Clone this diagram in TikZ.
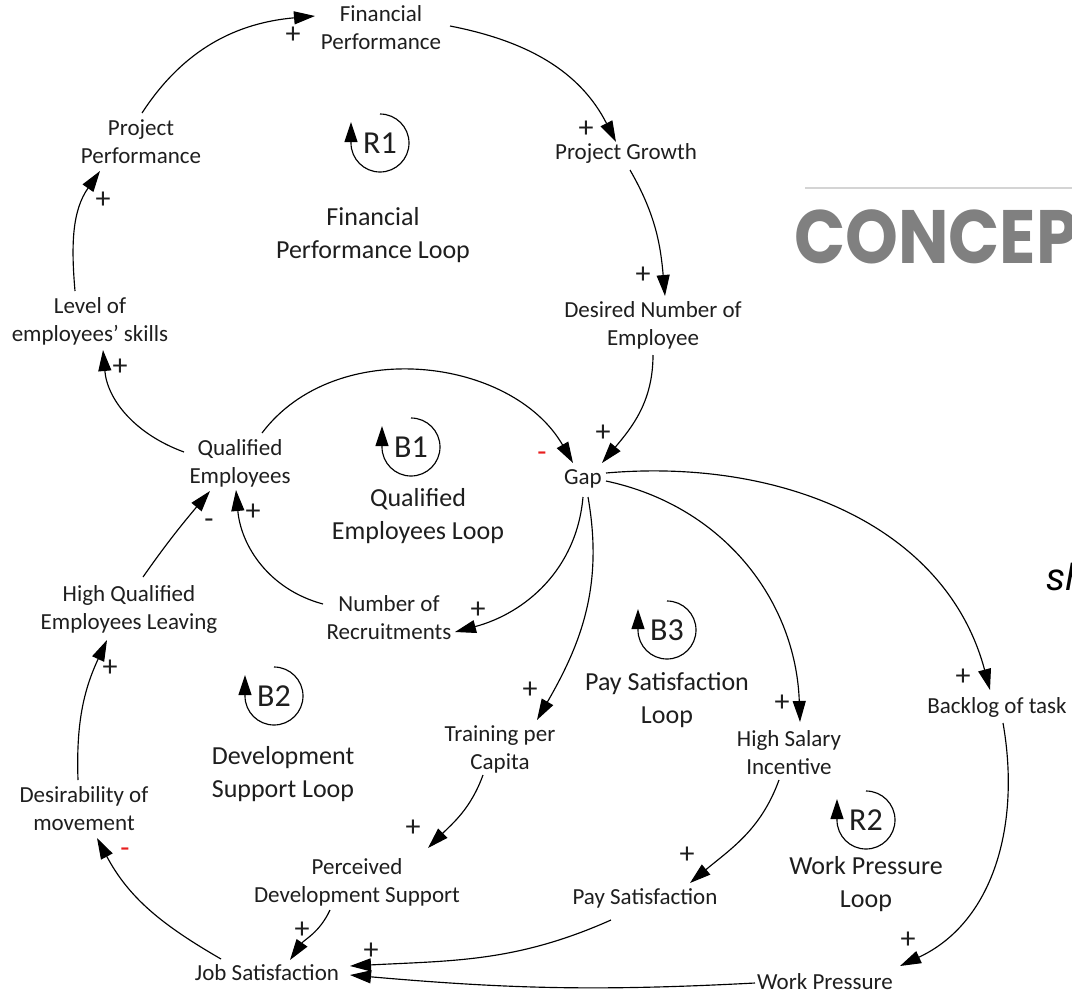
\documentclass[tikz,border=0pt]{standalone}
\usepackage{fontspec}
\usepackage{graphicx}
\setmainfont{Carlito}
\newfontfamily\headfont{Poppins}
\usetikzlibrary{arrows.meta,calc}
\definecolor{polred}{RGB}{232,30,30}
\definecolor{headgray}{RGB}{128,128,128}
\definecolor{rulegray}{RGB}{212,212,212}
\definecolor{inktext}{RGB}{30,30,30}
\begin{document}
\begin{tikzpicture}[x=1pt,y=1pt,
  var/.style={font=\fontsize{23}{28}\selectfont, align=center, inner sep=1pt, text=inktext},
  link/.style={line width=1.15pt, -{Triangle[length=21pt,width=13pt]}},
  pol/.style={font=\fontsize{30}{30}\selectfont, inner sep=0pt, text=inktext},
  polneg/.style={font=\fontsize{30}{30}\selectfont, inner sep=0pt, text=polred},
  loopname/.style={font=\fontsize{26}{33}\selectfont, align=center, inner sep=1pt, text=inktext},
  looptag/.style={font=\fontsize{32}{33}\selectfont, inner sep=0pt, text=inktext},
  icon/.style={line width=1.15pt, -{Triangle[length=20pt,width=13pt]}}
]
\useasboundingbox (0,-994) rectangle (1072,0);

% heading fragments
\draw[rulegray, line width=2pt] (805,-188) -- (1072,-188);
\node[anchor=base west, inner sep=0pt, text=headgray] (head) at (794,-263)
  {\scalebox{0.96}[1.08]{\headfont\bfseries\fontsize{70}{70}\selectfont CONCEP}};
\node[anchor=base west, inner sep=0pt, text=black, font=\headfont\itshape\fontsize{37}{37}\selectfont] (sh) at (1046,-590) {sh};

% variables
\node[var] (fp) at (381,-28) {Financial\\Performance};
\node[var] (pp) at (141,-142) {Project\\Performance};
\node[var] (pg) at (626,-153) {Project Growth};
\node[var] (dne) at (653,-325) {Desired Number of\\Employee};
\node[var] (les) at (90,-321) {Level of\\employees' skills};
\node[var] (qe) at (240,-463) {Qualified\\Employees};
\node[var] (gap) at (583,-479) {Gap};
\node[var] (nr) at (389,-618) {Number of\\Recruitments};
\node[var] (hqel) at (129,-609) {High Qualified\\Employees Leaving};
\node[var] (dm) at (84,-809) {Desirability of\\movement};
\node[var] (tpc) at (500,-749) {Training per\\Capita};
\node[var] (hsi) at (789,-753) {High Salary\\Incentive};
\node[var] (bt) at (997,-707) {Backlog of task};
\node[var] (pds) at (357,-882) {Perceived\\Development Support};
\node[var] (ps) at (645,-898) {Pay Satisfaction};
\node[var] (js) at (267,-973) {Job Satisfaction};
\node[var] (wp) at (825,-982) {Work Pressure};

% loop names
\node[loopname] (l1) at (373,-235) {Financial\\Performance Loop};
\node[loopname] (l2) at (418,-516) {Qualified\\Employees Loop};
\node[loopname] (l3) at (283,-774) {Development\\Support Loop};
\node[loopname] (l4) at (667,-700) {Pay Satisfaction\\Loop};
\node[loopname] (l5) at (866,-884) {Work Pressure\\Loop};

% loop icons
\node[looptag] (r1) at (380,-143) {R1};
\draw[icon] ($(r1)+(0,29)$) arc[start angle=90,end angle=-180,radius=29] -- ++(0,21);
\node[looptag] (b1) at (411,-447) {B1};
\draw[icon] ($(b1)+(0,29)$) arc[start angle=90,end angle=-180,radius=29] -- ++(0,21);
\node[looptag] (b2) at (274,-696) {B2};
\draw[icon] ($(b2)+(0,29)$) arc[start angle=90,end angle=-180,radius=29] -- ++(0,21);
\node[looptag] (b3) at (667,-630) {B3};
\draw[icon] ($(b3)+(0,29)$) arc[start angle=90,end angle=-180,radius=29] -- ++(0,21);
\node[looptag] (r2) at (866,-820) {R2};
\draw[icon] ($(r2)+(0,29)$) arc[start angle=90,end angle=-180,radius=29] -- ++(0,21);

% connectors
\draw[link] ($(pp)+(1,29)$) to[out=57,in=185] ($(fp)+(-66,12)$);
\draw[link] ($(fp)+(69,2)$) to[out=-11,in=117] ($(pg)+(-10,11)$);
\draw[link] ($(pg)+(4,-17)$) to[out=-60,in=95] ($(dne)+(12,29)$);
\draw[link] ($(dne)+(0,-30)$) to[out=-90,in=50] ($(gap)+(19,16)$);
\draw[link] ($(qe)+(22,30)$) to[out=53,in=120] ($(gap)+(-10,16)$);
\draw[link] ($(qe)+(-56,11)$) to[out=160,in=-85] ($(les)+(13,-29)$);
\draw[link] ($(les)+(-15,30)$) to[out=95,in=235] ($(pp)+(-41,-29)$);
\draw[link] ($(gap)+(0,-18)$) to[out=-95,in=15] ($(nr)+(66,-14)$);
\draw[link] ($(gap)+(5,-18)$) to[out=-80,in=60] ($(tpc)+(37,29)$);
\draw[link] ($(gap)+(23,-2)$) to[out=-12,in=92] ($(hsi)+(11,31)$);
\draw[link] ($(gap)+(23,6)$) to[out=5,in=105] ($(bt)+(-7,17)$);
\draw[link] ($(nr)+(-66,14)$) to[out=165,in=-85] ($(qe)+(-4,-27)$);
\draw[link] ($(hqel)+(14,32)$) to[out=55,in=230] ($(qe)+(-30,-28)$);
\draw[link] ($(dm)+(-6,29)$) to[out=92,in=245] ($(hqel)+(-22,-31)$);
\draw[link] ($(js)+(-46,14)$) to[out=150,in=-62] ($(dm)+(13,-29)$);
\draw[link] ($(tpc)+(-17,-26)$) to[out=-110,in=45] ($(pds)+(71,34)$);
\draw[link] ($(pds)+(-27,-28)$) to[out=-115,in=55] ($(js)+(23,13)$);
\draw[link] ($(hsi)+(-10,-27)$) to[out=-110,in=40] ($(ps)+(45,15)$);
\draw[link] ($(ps)+(-34,-22)$) to[out=204,in=3] ($(js)+(83,7)$);
\draw[link] ($(wp)+(-70,-1)$) to[out=183,in=-5] ($(js)+(83,-2)$);
\draw[link] ($(bt)+(6,-16)$) to[out=-80,in=25] ($(wp)+(75,16)$);

% polarity signs
\node[pol] (s1) at (293,-35) {+};
\node[pol] (s2) at (586,-129) {+};
\node[pol] (s3) at (643,-275) {+};
\node[pol] (s4) at (603,-433) {+};
\node[polneg] (s5) at (542,-457) {-};
\node[pol] (s6) at (120,-367) {+};
\node[pol] (s7) at (103,-200) {+};
\node[pol] (s8) at (478,-610) {+};
\node[pol] (s9) at (530,-690) {+};
\node[pol] (s10) at (782,-703) {+};
\node[pol] (s11) at (963,-677) {+};
\node[pol] (s12) at (253,-512) {+};
\node[pol] (s13) at (209,-524) {-};
\node[pol] (s14) at (110,-668) {+};
\node[polneg] (s15) at (125,-853) {-};
\node[pol] (s16) at (413,-828) {+};
\node[pol] (s17) at (302,-930) {+};
\node[pol] (s18) at (687,-855) {+};
\node[pol] (s19) at (371,-951) {+};
\node[pol] (s21) at (908,-940) {+};
\end{tikzpicture}
\end{document}
